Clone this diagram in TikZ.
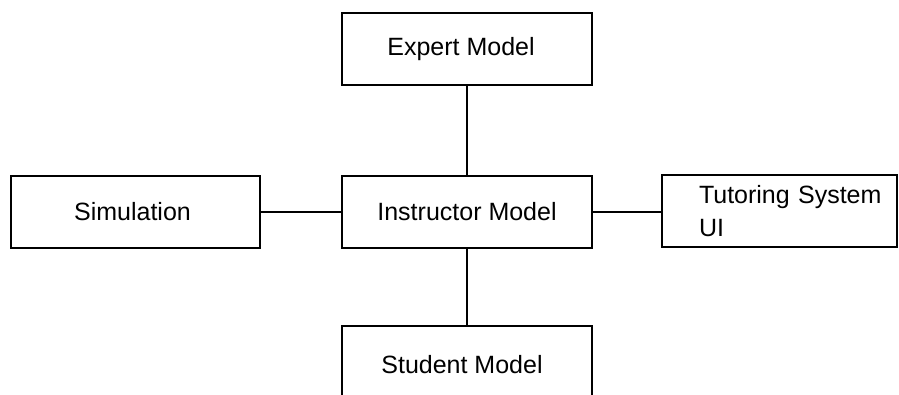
\documentclass[tikz,border=0pt]{standalone}
\usepackage{fontspec}
\setmainfont{Liberation Sans}
\begin{document}
\begin{tikzpicture}[x=1pt,y=-1pt,
  box/.style={draw=black,line width=1.4pt,rectangle,inner sep=0pt,
    font=\fontsize{25}{33}\selectfont},
  link/.style={draw=black,line width=1.4pt}]
\clip (0,0) rectangle (899,395);
\fill[white] (0,0) rectangle (899,395);
\node[box,minimum width=250pt,minimum height=72pt] (expert) at (467,49) {\raisebox{3pt}{Expert Model\hspace{12pt}}};
\node[box,minimum width=249pt,minimum height=72pt] (sim) at (135.5,212) {\raisebox{0pt}{Simulation\hspace{6pt}}};
\node[box,minimum width=250pt,minimum height=72pt] (instr) at (467,212) {Instructor Model};
\node[box,minimum width=235pt,minimum height=72pt,text width=215pt,align=left] (tut) at (779.5,211) {\hspace*{27pt}Tutoring System\\\hspace*{27pt}UI};
\node[box,minimum width=250pt,minimum height=90pt] (stud) at (467,371) {\raisebox{13pt}{Student Model\hspace{10pt}}};
\draw[link] (expert.south) -- (instr.north);
\draw[link] (instr.south) -- (stud.north);
\draw[link] (sim.east) -- (instr.west);
\draw[link] (instr.east) -- (instr.east -| tut.west);
\end{tikzpicture}
\end{document}
